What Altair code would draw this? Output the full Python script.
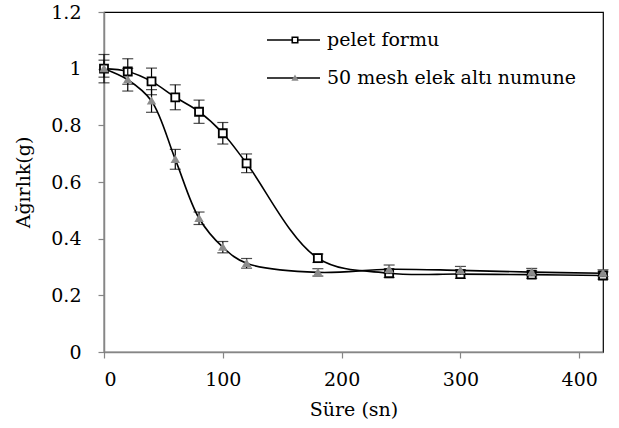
import altair as alt
import pandas as pd

# Data
time_s = [0, 20, 40, 60, 80, 100, 120, 180, 240, 300, 360, 420]
pelet = [1.0, 0.99, 0.955, 0.899, 0.848, 0.772, 0.666, 0.331, 0.278, 0.275, 0.273, 0.270]
pelet_err = [0.05, 0.045, 0.047, 0.044, 0.041, 0.038, 0.033, 0.015, 0.015, 0.015, 0.013, 0.013]
mesh = [1.0, 0.961, 0.886, 0.680, 0.472, 0.370, 0.313, 0.281, 0.292, 0.288, 0.282, 0.278]
mesh_err = [0.03, 0.04, 0.04, 0.035, 0.022, 0.02, 0.017, 0.013, 0.015, 0.014, 0.013, 0.012]
series_names = ["pelet formu", "50 mesh elek altı numune"]
x_ticks = [0, 100, 200, 300, 400]
y_ticks = [0, 0.2, 0.4, 0.6, 0.8, 1.0, 1.2]

FONT = "DejaVu Serif"
FS = 19

def frame(vals, errs, name):
    return pd.DataFrame({
        "t": time_s,
        "w": vals,
        "lo": [v - e for v, e in zip(vals, errs)],
        "hi": [v + e for v, e in zip(vals, errs)],
        "s": name,
    })

df_p = frame(pelet, pelet_err, series_names[0])
df_m = frame(mesh, mesh_err, series_names[1])

xs = alt.Scale(domain=[0, 420], nice=False, zero=False)
ys = alt.Scale(domain=[0, 1.2], nice=False)

X = alt.X("t:Q", scale=xs, title="Süre (sn)",
          axis=alt.Axis(values=x_ticks, format="d", tickSize=6, labelPadding=12, titlePadding=11))
Y = alt.Y("w:Q", scale=ys, title="Ağırlık(g)",
          axis=alt.Axis(values=y_ticks, format=".1~f", tickSize=6, labelPadding=17, titlePadding=17))


def series_layers(df, shape, fill, stroke, size, filled):
    base = alt.Chart(df)
    line = base.mark_line(interpolate="catmull-rom", color="black", strokeWidth=1.6).encode(x=X, y=Y)
    bar = base.mark_rule(color="black", strokeWidth=1.2).encode(
        x=alt.X("t:Q", scale=xs), y=alt.Y("lo:Q", scale=ys), y2="hi:Q")
    cap_lo = base.mark_tick(color="black", orient="horizontal", size=11, thickness=1.2).encode(
        x=alt.X("t:Q", scale=xs), y=alt.Y("lo:Q", scale=ys))
    cap_hi = base.mark_tick(color="black", orient="horizontal", size=11, thickness=1.2).encode(
        x=alt.X("t:Q", scale=xs), y=alt.Y("hi:Q", scale=ys))
    pts = base.mark_point(shape=shape, filled=filled, fill=fill, stroke=stroke, size=size,
                          strokeWidth=1.8, opacity=1).encode(x=alt.X("t:Q", scale=xs), y=alt.Y("w:Q", scale=ys))
    return [bar, cap_lo, cap_hi, line, pts]


layers = series_layers(df_p, "square", "white", "black", 64, False)
layers += series_layers(df_m, "triangle-up", "#8c8c8c", "#8c8c8c", 40, True)

# manual legend
legend_layers = []
leg_y = [28, 66]
for i, (name, shape, fill, stroke, size) in enumerate([
        (series_names[0], "square", "white", "black", 30),
        (series_names[1], "triangle-up", "#8c8c8c", "#8c8c8c", 20)]):
    d = alt.Chart(pd.DataFrame({"s": [name]}))
    legend_layers.append(d.mark_rule(color="black", strokeWidth=1.6).encode(
        x=alt.value(163), x2=alt.value(216), y=alt.value(leg_y[i])))
    legend_layers.append(d.mark_point(shape=shape, filled=(i == 1), fill=fill, stroke=stroke,
                                      size=size, strokeWidth=1.6, opacity=1).encode(
        x=alt.value(191), y=alt.value(leg_y[i])))
    legend_layers.append(d.mark_text(align="left", baseline="middle", font=FONT, fontSize=FS,
                                     color="black").encode(
        x=alt.value(223), y=alt.value(leg_y[i]), text="s:N"))

chart = alt.layer(*layers, *legend_layers).properties(
    width=499, height=340,
    background="white",
    autosize=alt.AutoSizeParams(type="none"),
    padding={"left": 104, "top": 12, "right": 16, "bottom": 76},
).configure_view(
    stroke="black", strokeWidth=1.2
).configure_axis(
    grid=False, domainColor="#868686", tickColor="#868686", domainWidth=1.5, tickWidth=1.2,
    labelFont=FONT, titleFont=FONT, labelFontSize=FS, titleFontSize=FS,
    labelColor="black", titleColor="black", titleFontWeight="normal"
)

chart.save("out.html", embed_options={"renderer": "svg", "actions": False})
